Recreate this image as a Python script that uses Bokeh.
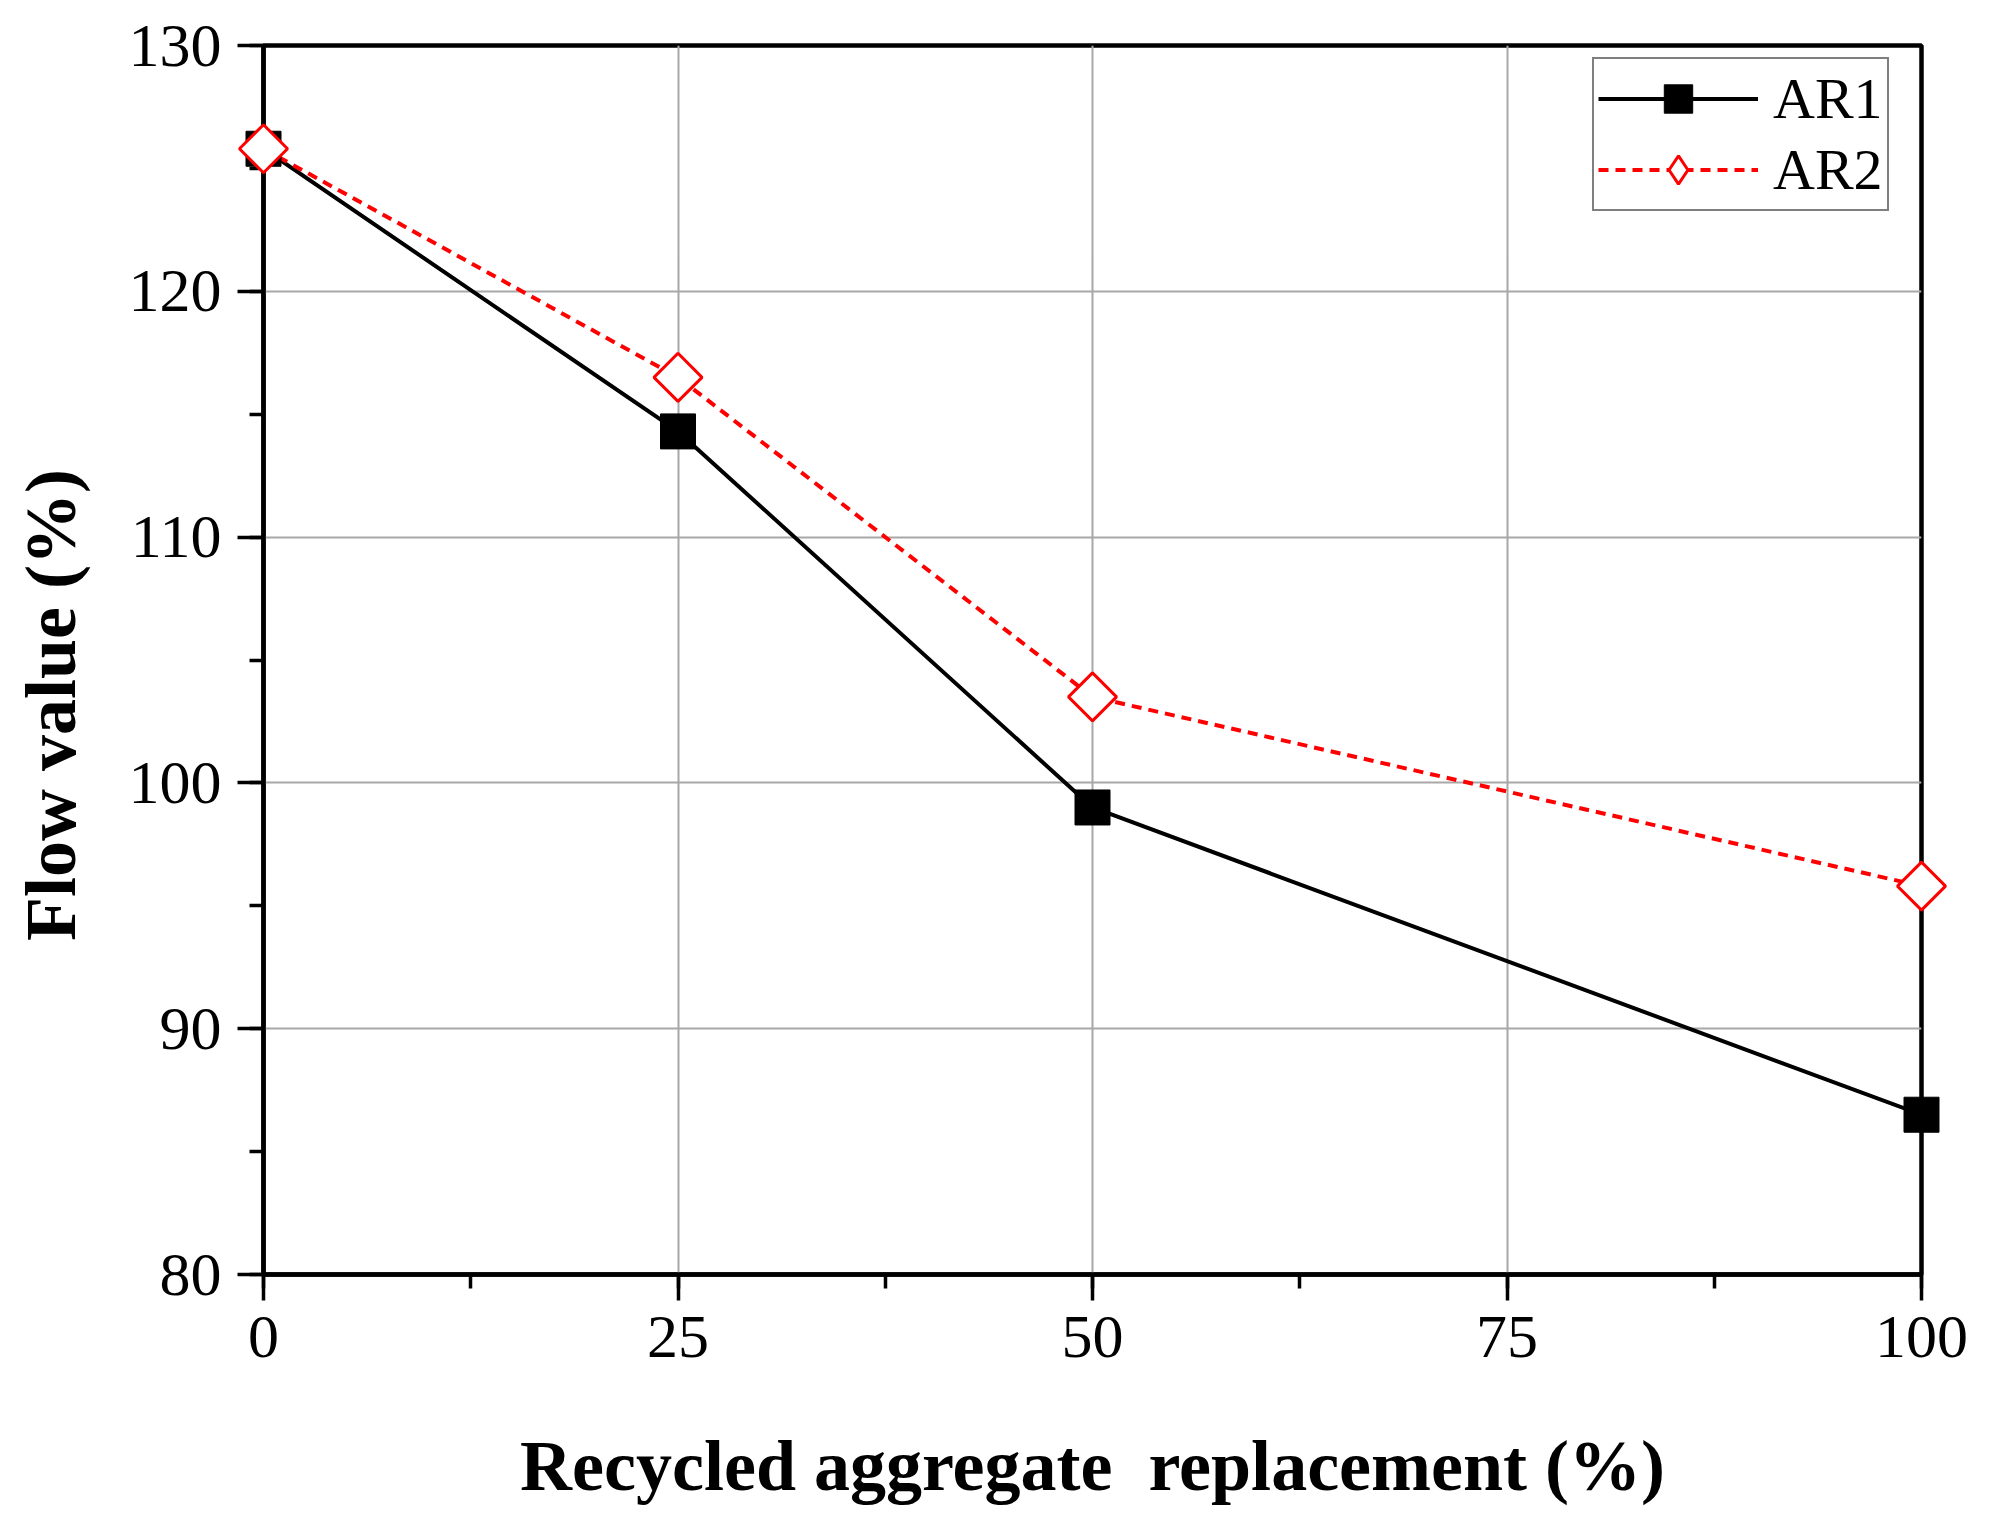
import numpy as np
from bokeh.plotting import figure
from bokeh.models import (SingleIntervalTicker, Range1d, Legend, LegendItem,
                          ColumnDataSource)
from bokeh.embed import file_html
from bokeh.resources import INLINE

# ---- data ----
replacement = [0, 25, 50, 100]
ar1 = [125.8, 114.3, 99.0, 86.5]
ar2 = [125.8, 116.5, 103.5, 95.8]
series_names = ["AR1", "AR2"]
x_title = "Recycled aggregate\u00a0 replacement (%)"
y_title = "Flow value (%)" + "\u00a0" * 5

FONT = "Liberation Serif"

p = figure(width=1994, height=1524, output_backend="svg", toolbar_location=None,
           x_range=Range1d(0, 100), y_range=Range1d(80, 130))
p.min_border_left = 263
p.min_border_right = 73
p.min_border_top = 45
p.min_border_bottom = 250
p.background_fill_color = "white"
p.border_fill_color = "white"
p.outline_line_color = "black"
p.outline_line_width = 4.5

p.xaxis.ticker = SingleIntervalTicker(interval=25, num_minor_ticks=2)
p.yaxis.ticker = SingleIntervalTicker(interval=10, num_minor_ticks=2)

for ax in (p.xaxis[0], p.yaxis[0]):
    ax.axis_line_width = 4.5
    ax.axis_line_color = "black"
    ax.major_tick_line_width = 3.5
    ax.minor_tick_line_width = 3.5
    ax.major_tick_out = 26
    ax.major_tick_in = 0
    ax.minor_tick_out = 14
    ax.minor_tick_in = 0
    ax.major_label_text_font = FONT
    ax.major_label_text_font_size = "62px"
    ax.major_label_text_color = "black"
    ax.axis_label_text_font = FONT
    ax.axis_label_text_font_size = "72px"
    ax.axis_label_text_font_style = "bold"
    ax.axis_label_text_color = "black"

p.xaxis.axis_label = x_title
p.yaxis.axis_label = y_title
p.xaxis.major_label_standoff = 16
p.xaxis.axis_label_standoff = 66
p.yaxis.major_label_standoff = 16
p.yaxis.axis_label_standoff = 35

p.grid.grid_line_color = "#a8a8a8"
p.grid.grid_line_width = 2
p.xgrid.ticker = SingleIntervalTicker(interval=25)
p.ygrid.ticker = SingleIntervalTicker(interval=10)

l1 = p.line(replacement, ar1, line_color="black", line_width=4)
m1 = p.scatter(replacement, ar1, marker="square", size=35,
               fill_color="black", line_color="black", level="overlay")
l2 = p.line(replacement, ar2, line_color="#ff0000", line_width=4, line_dash="10 7")
m2 = p.scatter(replacement, ar2, marker="square", size=34, angle=np.pi / 4,
               fill_color="white", line_color="#ff0000", line_width=3,
               level="overlay")

# legend-only marker for the open diamond (not drawn in the plot area)
legend_src = ColumnDataSource(data=dict(x=[np.nan], y=[np.nan]))
m2_leg = p.scatter("x", "y", source=legend_src, marker="diamond", size=34,
                   fill_color="white", line_color="#ff0000", line_width=3)

legend = Legend(items=[LegendItem(label=series_names[0], renderers=[l1, m1]),
                       LegendItem(label=series_names[1], renderers=[l2, m2_leg])],
                location=(1329, 1063))
legend.label_text_font = FONT
legend.label_text_font_size = "58px"
legend.label_text_color = "black"
legend.glyph_width = 160
legend.glyph_height = 71
legend.label_standoff = 15
legend.padding = 4
legend.spacing = 0
legend.margin = 0
legend.border_line_color = "black"
legend.border_line_width = 2
legend.background_fill_color = "white"
legend.background_fill_alpha = 1
p.add_layout(legend, "center")

open("out.html", "w").write(file_html(p, INLINE))
